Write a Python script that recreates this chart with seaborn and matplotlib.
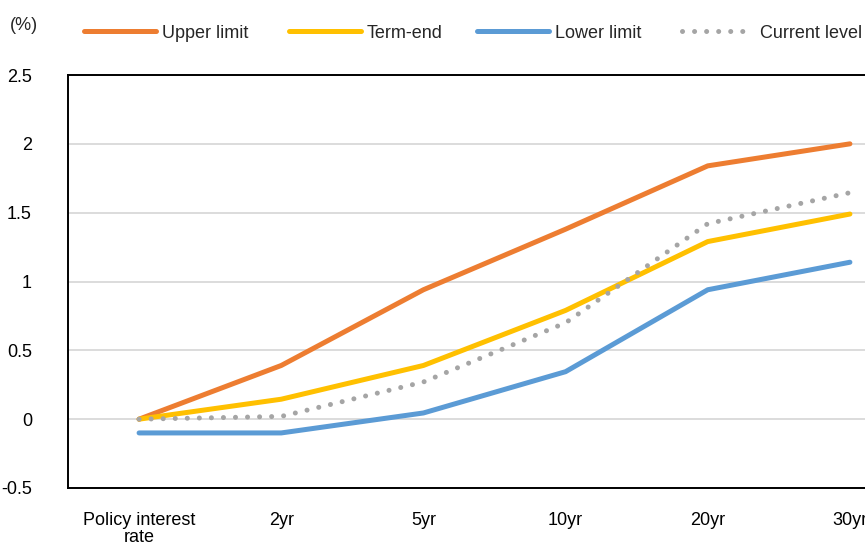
import matplotlib
matplotlib.use("Agg")
import matplotlib.pyplot as plt
import seaborn as sns
import pandas as pd

categories = ["Policy interest\nrate", "2yr", "5yr", "10yr", "20yr", "30yr"]
upper_limit = [0.0, 0.39, 0.94, 1.38, 1.84, 2.0]
term_end = [0.0, 0.145, 0.39, 0.79, 1.29, 1.49]
lower_limit = [-0.1, -0.1, 0.045, 0.345, 0.94, 1.14]
current_level = [0.0, 0.02, 0.27, 0.70, 1.42, 1.645]
yticks = [-0.5, 0, 0.5, 1, 1.5, 2, 2.5]
ytick_labels = ["-0.5", "0", "0.5", "1", "1.5", "2", "2.5"]
legend_labels = ["Upper limit", "Term-end", "Lower limit", "Current level"]

sns.set_theme(style="white")
plt.rcParams['font.family'] = ['Liberation Sans Narrow', 'Liberation Sans', 'DejaVu Sans']

W, H = 865, 545
fig = plt.figure(figsize=(W / 100, H / 100), dpi=100)
left, right, top, bottom = 68, 921, 75, 488
ax = fig.add_axes([left / W, (H - bottom) / H, (right - left) / W, (bottom - top) / H])

df = pd.DataFrame({"cat": categories, "upper": upper_limit, "term": term_end,
                   "lower": lower_limit, "current": current_level})

lw = 3.6
sns.lineplot(data=df, x="cat", y="upper", ax=ax, color="#ED7D31", lw=lw,
             label=legend_labels[0], solid_capstyle="round", sort=False)
sns.lineplot(data=df, x="cat", y="term", ax=ax, color="#FFC000", lw=lw,
             label=legend_labels[1], solid_capstyle="round", sort=False)
sns.lineplot(data=df, x="cat", y="lower", ax=ax, color="#5B9BD5", lw=lw,
             label=legend_labels[2], solid_capstyle="round", sort=False)
sns.lineplot(data=df, x="cat", y="current", ax=ax, color="#A5A5A5", lw=lw,
             label=legend_labels[3], linestyle=(0, (0.01, 2.4)),
             dash_capstyle="round", sort=False)

ax.set_xlim(-0.5, 5.5)
ax.set_ylim(-0.5, 2.5)
ax.set_yticks(yticks)
ax.set_yticklabels(ytick_labels)
ax.set_xlabel("")
ax.set_ylabel("")
ax.grid(axis="y", color="#D9D9D9", lw=1.3)
ax.grid(axis="x", visible=False)
for s in ["left", "bottom", "top"]:
    ax.spines[s].set_color("black")
    ax.spines[s].set_linewidth(1.4)
ax.spines["right"].set_visible(False)
ax.tick_params(axis="both", length=0, labelsize=13, colors="black")
ax.tick_params(axis="y", pad=26)
ax.tick_params(axis="x", pad=17)
for t in ax.get_xticklabels():
    t.set_multialignment("center")
    t.set_linespacing(1.05)

ax.get_legend().remove()
handles, labels = ax.get_legend_handles_labels()
starts = [84, 289, 477, 682]
for h, l, x0 in zip(handles, labels, starts):
    fig.legend([h], [l], loc="center left", bbox_to_anchor=(x0 / W, 1 - 33 / H),
               frameon=False, fontsize=13, handlelength=4.0,
               handletextpad=0.3, borderaxespad=0, borderpad=0)

fig.text(10 / W, 1 - 25 / H, "(%)", fontsize=13, va="center", ha="left")

fig.savefig("out.png", dpi=100)
